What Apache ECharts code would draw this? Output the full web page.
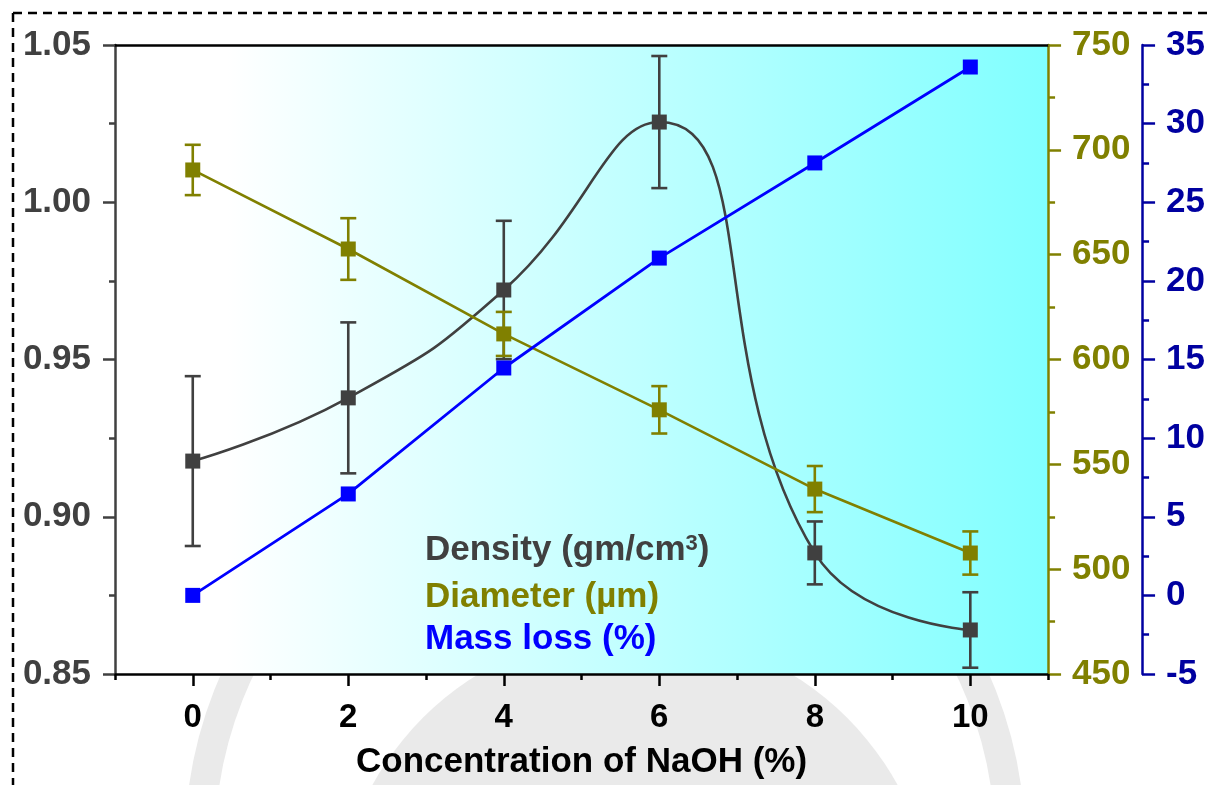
<!DOCTYPE html>
<html>
<head>
<meta charset="utf-8">
<script src="https://cdn.jsdelivr.net/npm/echarts@6/dist/echarts.min.js"></script>
<style>
html,body{margin:0;padding:0;background:#fff;}
#chart{width:1208px;height:785px;}
</style>
</head>
<body>
<div id="chart"></div>
<script>
// ---- data ----
const xValues = [0, 2, 4, 6, 8, 10];
const xTickLabels = [0, 2, 4, 6, 8, 10];
const xMinorTicks = [-1, 1, 3, 5, 7, 9, 11];
const density = [0.9177, 0.9378, 0.9721, 1.0255, 0.8885, 0.864];
const densityErr = [0.027, 0.024, 0.022, 0.021, 0.010, 0.012];
const diameter = [690.4, 652.7, 612.2, 576.0, 538.2, 507.7];
const diameterErr = [12.0, 14.7, 10.5, 11.3, 11.0, 10.3];
const massLoss = [0.0, 6.45, 14.46, 21.45, 27.5, 33.6];
const seriesNames = ['Density (gm/cm3)', 'Diameter (µm)', 'Mass loss (%)'];

const C_DENS = '#404040', C_DIAM = '#808000', C_MASS = '#0000FF', C_MASSAX = '#0000A0';
const FONT = 'Liberation Sans, Arial, sans-serif';

function pairs(vals){ return xValues.map((x,i)=>[x, vals[i]]); }
function errSeries(vals, errs, yIdx, color){
  return {
    type:'custom', yAxisIndex:yIdx, silent:true, z:3,
    data: xValues.map((x,i)=>[x, vals[i]-errs[i], vals[i]+errs[i]]),
    encode:{x:0, y:[1,2]},
    renderItem:function(params, api){
      const x = api.value(0);
      const lo = api.coord([x, api.value(1)]);
      const hi = api.coord([x, api.value(2)]);
      const hw = 8;
      const st = {stroke:color, lineWidth:2.6};
      return {type:'group', children:[
        {type:'line', shape:{x1:lo[0],y1:lo[1],x2:hi[0],y2:hi[1]}, style:st},
        {type:'line', shape:{x1:lo[0]-hw,y1:lo[1],x2:lo[0]+hw,y2:lo[1]}, style:st},
        {type:'line', shape:{x1:hi[0]-hw,y1:hi[1],x2:hi[0]+hw,y2:hi[1]}, style:st}
      ]};
    }
  };
}

const chart = echarts.init(document.getElementById('chart'), null, {renderer:'canvas'});
const lblFont = {fontFamily:FONT, fontWeight:'bold', fontSize:35};

const option = {
  animation:false,
  backgroundColor:'#ffffff',
  textStyle:{fontFamily:FONT},
  grid:{
    left:115, right:158, top:45, bottom:111, show:true, borderWidth:0,
    backgroundColor: new echarts.graphic.LinearGradient(0,0,1,0,[
      {offset:0, color:'#ffffff'},
      {offset:0.12, color:'#ffffff'},
      {offset:1, color:'#80ffff'}
    ])
  },
  graphic:[
    // faint watermark seal, mostly hidden behind plot
    {type:'circle', z:-1, silent:true, shape:{cx:605, cy:844, r:405},
      style:{fill:'none', stroke:'#eaeaea', lineWidth:30}},
    {type:'circle', z:-1, silent:true, shape:{cx:635, cy:930, r:300},
      style:{fill:'#eaeaea'}},
    // dashed frame
    {type:'line', silent:true, shape:{x1:13,y1:13,x2:1208,y2:13},
      style:{stroke:'#000', lineWidth:2.5, lineDash:[9,6]}},
    {type:'line', silent:true, shape:{x1:13,y1:13,x2:13,y2:785},
      style:{stroke:'#000', lineWidth:2.5, lineDash:[9,6]}},
    // legend text
    {type:'text', left:425, top:533, z:10, silent:true,
      style:{text:'{a|Density (gm/cm}{s|3}{a|)}', rich:{
        a:{fontFamily:FONT, fontWeight:'bold', fontSize:35, fill:C_DENS},
        s:{fontFamily:FONT, fontWeight:'bold', fontSize:22, fill:C_DENS, verticalAlign:'top'}
      }}},
    {type:'text', left:425, top:580, z:10, silent:true,
      style:{text:seriesNames[1], fontFamily:FONT, fontWeight:'bold', fontSize:35, fill:C_DIAM}},
    {type:'text', left:425, top:622, z:10, silent:true,
      style:{text:seriesNames[2], fontFamily:FONT, fontWeight:'bold', fontSize:35, fill:C_MASS}}
  ],
  xAxis:[
    {type:'value', min:-1, max:11, interval:1, position:'bottom',
      name:'Concentration of NaOH (%)', nameLocation:'middle', nameGap:71,
      nameTextStyle:{fontFamily:FONT, fontWeight:'bold', fontSize:35, color:'#000'},
      axisLine:{show:true, onZero:false, lineStyle:{color:'#000', width:2.5}},
      axisTick:{show:true, length:6, customValues:xMinorTicks, lineStyle:{color:'#000', width:2.5}},
      axisLabel:{show:true, customValues:xTickLabels, margin:27, color:'#000', fontFamily:FONT, fontWeight:'bold', fontSize:33},
      splitLine:{show:false}},
    {type:'value', min:-1, max:11, interval:1, position:'bottom', offset:0,
      axisLine:{show:false, onZero:false},
      axisTick:{show:true, length:12, customValues:xTickLabels, lineStyle:{color:'#000', width:2.5}},
      axisLabel:{show:false}, splitLine:{show:false}},
    {type:'value', min:-1, max:11, interval:1, position:'top',
      axisLine:{show:true, onZero:false, lineStyle:{color:'#000', width:2.5}},
      axisTick:{show:false}, axisLabel:{show:false}, splitLine:{show:false}}
  ],
  yAxis:[
    {type:'value', min:0.85, max:1.05, interval:0.05, position:'left',
      axisLine:{show:true, onZero:false, lineStyle:{color:C_DENS, width:2.5}},
      axisTick:{show:true, length:12, lineStyle:{color:C_DENS, width:2.5}},
      minorTick:{show:true, splitNumber:2, length:6, lineStyle:{color:C_DENS, width:2.5}},
      axisLabel:Object.assign({color:C_DENS, margin:24, formatter:v=>v.toFixed(2)}, lblFont),
      splitLine:{show:false}},
    {type:'value', min:450, max:750, interval:50, position:'right', offset:0,
      axisLine:{show:true, onZero:false, lineStyle:{color:C_DIAM, width:2.5}},
      axisTick:{show:true, inside:false, length:13, lineStyle:{color:C_DIAM, width:2.5}},
      minorTick:{show:true, splitNumber:2, length:7, lineStyle:{color:C_DIAM, width:2.5}},
      axisLabel:Object.assign({color:C_DIAM, margin:24}, lblFont),
      splitLine:{show:false}},
    {type:'value', min:-5, max:35, interval:5, position:'right', offset:94,
      axisLine:{show:true, onZero:false, lineStyle:{color:C_MASSAX, width:2.5}},
      axisTick:{show:true, inside:false, length:13, lineStyle:{color:C_MASSAX, width:2.5}},
      minorTick:{show:true, splitNumber:2, length:7, lineStyle:{color:C_MASSAX, width:2.5}},
      axisLabel:Object.assign({color:C_MASSAX, margin:24}, lblFont),
      splitLine:{show:false}}
  ],
  series:[
    errSeries(density, densityErr, 0, C_DENS),
    {name:seriesNames[0], type:'line', yAxisIndex:0, data:pairs(density), smooth:0.5,
      symbol:'rect', symbolSize:15, itemStyle:{color:C_DENS}, lineStyle:{color:C_DENS, width:2.6}, z:4},
    errSeries(diameter, diameterErr, 1, C_DIAM),
    {name:seriesNames[1], type:'line', yAxisIndex:1, data:pairs(diameter),
      symbol:'rect', symbolSize:15, itemStyle:{color:C_DIAM}, lineStyle:{color:C_DIAM, width:2.6}, z:5},
    {name:seriesNames[2], type:'line', yAxisIndex:2, data:pairs(massLoss),
      symbol:'rect', symbolSize:15, itemStyle:{color:C_MASS}, lineStyle:{color:C_MASS, width:2.8}, z:6}
  ]
};
chart.setOption(option);
</script>
</body>
</html>
